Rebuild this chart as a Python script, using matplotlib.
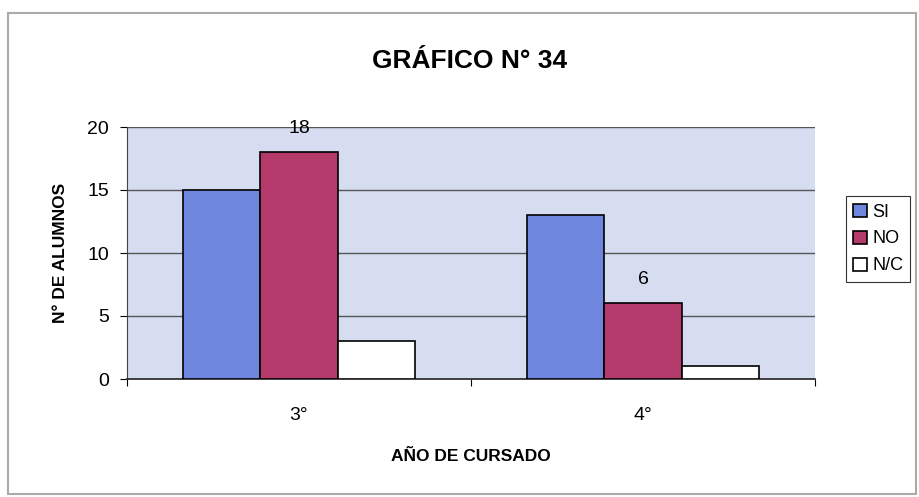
import matplotlib

matplotlib.use("Agg")

import matplotlib.pyplot as plt
import numpy as np
from matplotlib.patches import Rectangle

plt.rcParams["font.family"] = ["Liberation Sans", "DejaVu Sans"]

# data
years = ["3°", "4°"]
series = ["SI", "NO", "N/C"]
si = [15, 13]
no = [18, 6]
nc = [3, 1]
labelled = {"NO": [18, 6]}  # values printed above the NO bars

colors = ["#6f86de", "#b43a6c", "#ffffff"]
plot_bg = "#d7ddf1"

fig = plt.figure(figsize=(9.2, 4.97), dpi=100)
ax = fig.add_axes([127 / 920, 1 - 379 / 497, 688 / 920, 252 / 497])
ax.set_facecolor(plot_bg)

x = np.arange(len(years))
width = 0.225
for i, (name, vals) in enumerate(zip(series, [si, no, nc])):
    ax.bar(x + (i - 1) * width, vals, width, color=colors[i], edgecolor="black",
           linewidth=1.2, label=name, zorder=3)

for xi, v in zip(x, labelled["NO"]):
    ax.text(xi, v + 1.9, str(v), ha="center", va="center", fontsize=14, zorder=4)

ax.set_xlim(-0.5, 1.5)
ax.set_ylim(0, 20)
ax.set_yticks([0, 5, 10, 15, 20])
ax.grid(axis="y", color="#555555", linewidth=1.0, zorder=1)
ax.tick_params(axis="y", labelsize=14, length=5, direction="out", pad=8)

# category ticks sit between groups, labels in the middle
ax.set_xticks([-0.5, 0.5, 1.5])
ax.set_xticklabels([])
ax.set_xticks(x, minor=True)
ax.set_xticklabels(years, minor=True, fontsize=14)
ax.tick_params(axis="x", which="major", length=5, direction="out")
ax.tick_params(axis="x", which="minor", length=0, pad=20)

for side in ["top", "right"]:
    ax.spines[side].set_visible(False)
ax.spines["left"].set_color("#444444")
ax.spines["bottom"].set_color("#333333")
ax.spines["bottom"].set_linewidth(1.3)

ax.set_ylabel("N° DE ALUMNOS", fontsize=12.5, fontweight="bold", labelpad=14)
ax.set_xlabel("AÑO DE CURSADO", fontsize=12.5, fontweight="bold", labelpad=18)

fig.text(470 / 920, 1 - 61 / 497, "GRÁFICO N° 34", ha="center", va="center",
         fontsize=19, fontweight="bold")

leg = ax.legend(loc="center left", bbox_to_anchor=(837 / 920, 1 - 239 / 497),
                bbox_transform=fig.transFigure, fontsize=13, handlelength=0.75,
                handleheight=0.75, handletextpad=0.3, labelspacing=0.55,
                borderpad=0.4, fancybox=False, framealpha=1)
leg.get_frame().set_edgecolor("#333333")
leg.get_frame().set_linewidth(0.8)

# outer chart frame
fig.patches.append(Rectangle((8 / 920, 3 / 497), 908 / 920, 481 / 497,
                             transform=fig.transFigure, fill=False,
                             edgecolor="#aaaaaa", linewidth=1.5))

fig.savefig("out.png", dpi=100)
